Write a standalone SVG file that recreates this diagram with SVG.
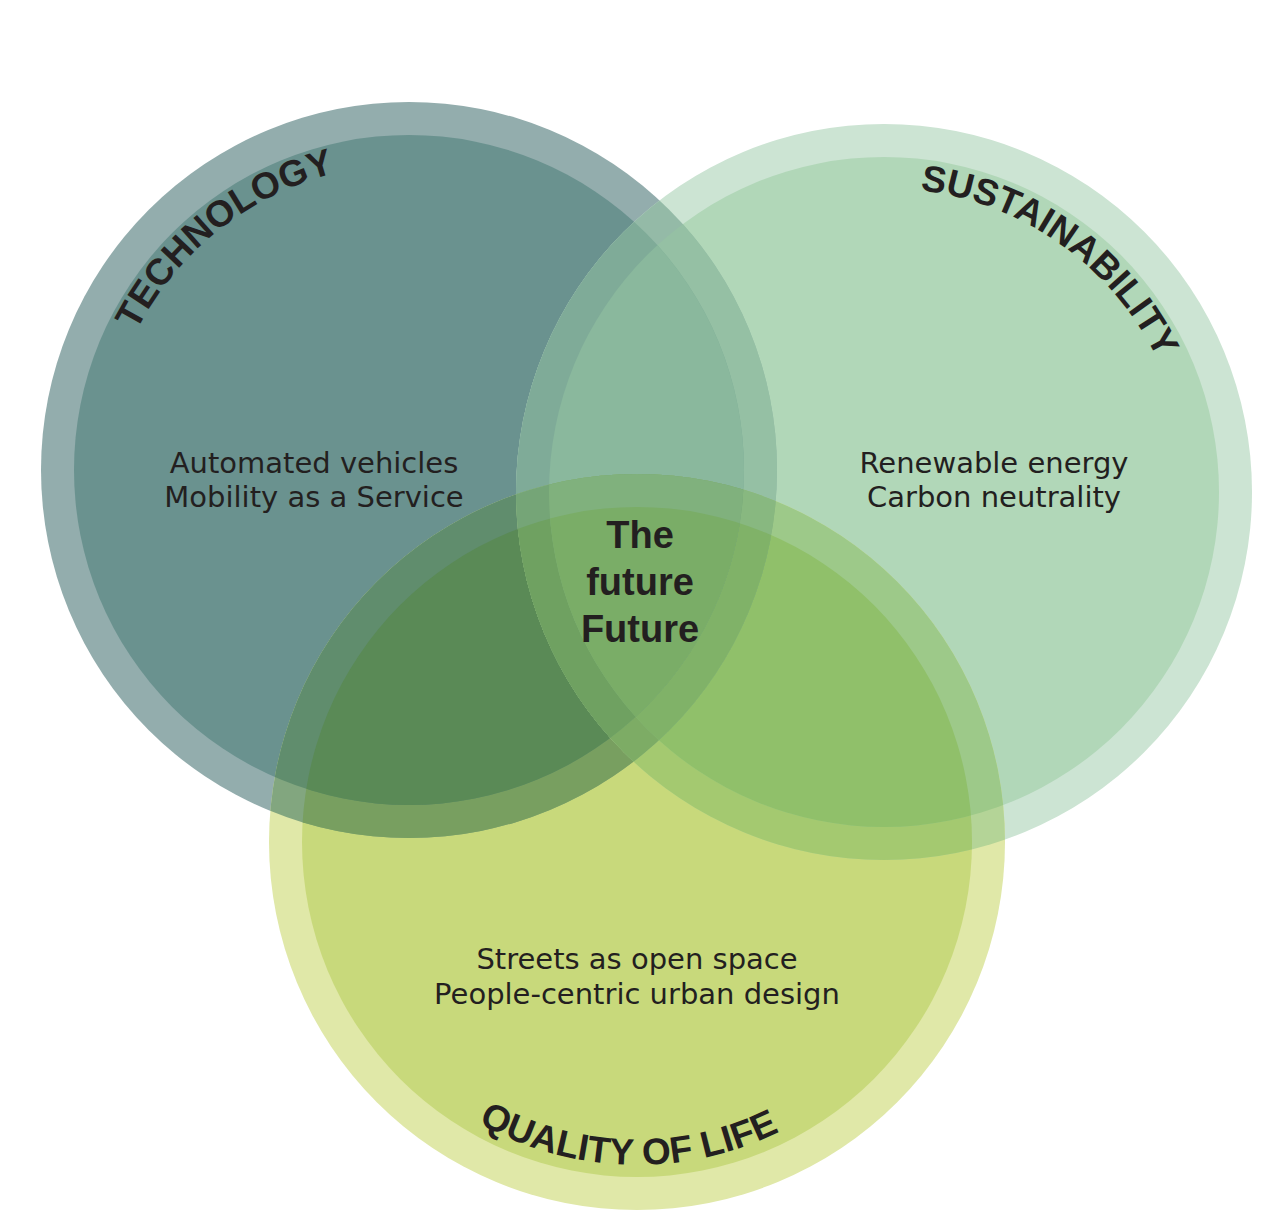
<svg xmlns="http://www.w3.org/2000/svg" xmlns:xlink="http://www.w3.org/1999/xlink" width="1280" height="1230" viewBox="0 0 1280 1230">
  <style>
    .title { font-family: "Liberation Sans", Arial, sans-serif; font-weight: bold; font-size: 37px; fill: #231f20; }
    .body { font-family: "DejaVu Sans", "Liberation Sans", sans-serif; font-size: 29px; fill: #231f20; text-anchor: middle; }
    .center { font-family: "Liberation Sans", Arial, sans-serif; font-weight: bold; font-size: 38px; fill: #231f20; text-anchor: middle; }
  </style>
  <defs>
    <clipPath id="cTo"><circle cx="409" cy="470" r="368"/></clipPath>
    <clipPath id="cTi"><circle cx="409" cy="470" r="335"/></clipPath>
    <clipPath id="cSo"><circle cx="884" cy="492" r="368"/></clipPath>
    <clipPath id="cSi"><circle cx="884" cy="492" r="335"/></clipPath>
    <circle id="Qo" cx="637" cy="842" r="368"/>
    <circle id="Qi" cx="637" cy="842" r="335"/>
    <circle id="So" cx="884" cy="492" r="368"/>
    <circle id="Si" cx="884" cy="492" r="335"/>
    <path id="arcT" d="M 103 470 A 306 306 0 0 1 715 470"/>
    <path id="arcS" d="M 580 492 A 304 304 0 0 1 1188 492"/>
    <path id="arcQ" d="M 314 842 A 323 323 0 0 0 960 842"/>
  </defs>
  <rect width="1280" height="1230" fill="#ffffff"/>

  <g id="technology">
    <circle cx="409" cy="470" r="368" fill="#93adad"/>
    <circle cx="409" cy="470" r="335" fill="#6a928f"/>
    <text class="title" font-size="38"><textPath xlink:href="#arcT" href="#arcT" startOffset="28.6%" text-anchor="middle">TECHNOLOGY</textPath></text>
    <text class="body" x="314" y="473">Automated vehicles</text>
    <text class="body" x="314" y="507">Mobility as a Service</text>
  </g>

  <g id="sustainability">
    <use href="#So" xlink:href="#So" fill="#cce4d3"/>
    <use href="#Si" xlink:href="#Si" fill="#b1d7b8"/>
    <text class="title"><textPath xlink:href="#arcS" href="#arcS" startOffset="69.7%" text-anchor="middle">SUSTAINABILITY</textPath></text>
    <text class="body" x="994" y="473">Renewable energy</text>
    <text class="body" x="994" y="507">Carbon neutrality</text>
  </g>

  <g id="quality-of-life">
    <use href="#Qo" xlink:href="#Qo" fill="#e0e8a8"/>
    <use href="#Qi" xlink:href="#Qi" fill="#c8d97b"/>
    <text class="title" font-size="38"><textPath xlink:href="#arcQ" href="#arcQ" startOffset="49.1%" text-anchor="middle">QUALITY OF LIFE</textPath></text>
    <text class="body" x="637" y="969">Streets as open space</text>
    <text class="body" x="637" y="1004">People-centric urban design</text>
  </g>

  <g id="overlaps">
    <!-- Technology ∩ Sustainability -->
    <g clip-path="url(#cTo)">
      <use href="#So" xlink:href="#So" fill="#94baa7"/>
      <use href="#Si" xlink:href="#Si" fill="#95c0a4"/>
    </g>
    <g clip-path="url(#cTi)">
      <use href="#So" xlink:href="#So" fill="#7fab98"/>
      <use href="#Si" xlink:href="#Si" fill="#8ab89d"/>
    </g>
    <!-- Technology ∩ Quality of life -->
    <g clip-path="url(#cTo)">
      <use href="#Qo" xlink:href="#Qo" fill="#82a67f"/>
      <use href="#Qi" xlink:href="#Qi" fill="#789f60"/>
    </g>
    <g clip-path="url(#cTi)">
      <use href="#Qo" xlink:href="#Qo" fill="#608d6d"/>
      <use href="#Qi" xlink:href="#Qi" fill="#5a8a56"/>
    </g>
    <!-- Sustainability ∩ Quality of life -->
    <g clip-path="url(#cSo)">
      <use href="#Qo" xlink:href="#Qo" fill="#b4d497"/>
      <use href="#Qi" xlink:href="#Qi" fill="#a4c970"/>
    </g>
    <g clip-path="url(#cSi)">
      <use href="#Qo" xlink:href="#Qo" fill="#9dc989"/>
      <use href="#Qi" xlink:href="#Qi" fill="#90c06a"/>
    </g>
    <!-- Triple overlap -->
    <g clip-path="url(#cTo)"><g clip-path="url(#cSo)">
      <use href="#Qo" xlink:href="#Qo" fill="#86b280"/>
      <use href="#Qi" xlink:href="#Qi" fill="#7dac65"/>
    </g></g>
    <g clip-path="url(#cTo)"><g clip-path="url(#cSi)">
      <use href="#Qo" xlink:href="#Qo" fill="#88b880"/>
      <use href="#Qi" xlink:href="#Qi" fill="#80b268"/>
    </g></g>
    <g clip-path="url(#cTi)"><g clip-path="url(#cSo)">
      <use href="#Qo" xlink:href="#Qo" fill="#75a577"/>
      <use href="#Qi" xlink:href="#Qi" fill="#6fa161"/>
    </g></g>
    <g clip-path="url(#cTi)"><g clip-path="url(#cSi)">
      <use href="#Qo" xlink:href="#Qo" fill="#80b17d"/>
      <use href="#Qi" xlink:href="#Qi" fill="#7aad67"/>
    </g></g>
  </g>

  <g id="the-future">
    <text class="center" x="640" y="548">The</text>
    <text class="center" x="640" y="595">future</text>
    <text class="center" x="640" y="642">Future</text>
  </g>
</svg>
